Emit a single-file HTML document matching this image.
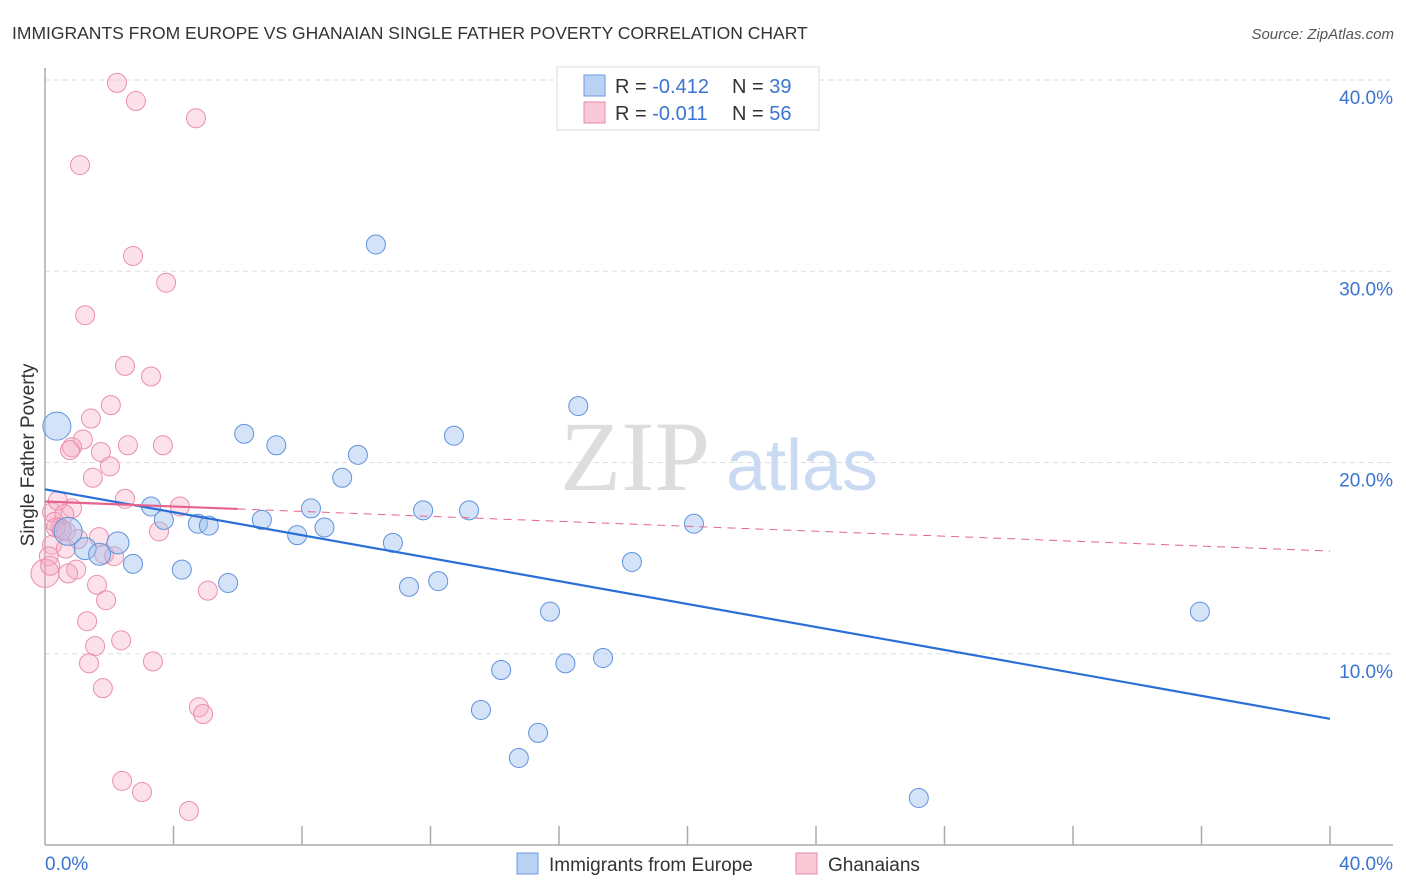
<!DOCTYPE html>
<html><head><meta charset="utf-8"><style>
body{margin:0;background:#fff;font-family:"Liberation Sans",sans-serif}
svg{display:block}
</style></head><body>
<svg id="chart" width="1406" height="892">
<text x="12" y="39" font-size="17.5" fill="#333">IMMIGRANTS FROM EUROPE VS GHANAIAN SINGLE FATHER POVERTY CORRELATION CHART</text>
<text x="1394" y="39" font-size="15" font-style="italic" fill="#555" text-anchor="end">Source: ZipAtlas.com</text>
<g id="grid"></g>
<text x="635" y="490" font-size="100" font-family="Liberation Serif,serif" fill="#ddd" text-anchor="middle">ZIP</text>
<text x="802" y="490" font-size="72" fill="#c9daf2" text-anchor="middle">atlas</text>
<g id="axes"></g>
<g id="pts"></g>
<g id="lines"></g>
<text transform="translate(34,455) rotate(-90)" font-size="19" fill="#333" text-anchor="middle">Single Father Poverty</text>
<g>
<rect x="557" y="67" width="262" height="63" fill="#fff" stroke="#ddd"/>
<rect x="584" y="75" width="21" height="21" fill="#b9d2f4" stroke="#6a9be0"/>
<rect x="584" y="102" width="21" height="21" fill="#f9c9d8" stroke="#e88aa8"/>
<text x="615" y="93" font-size="20" fill="#333">R = <tspan fill="#3a74d0">-0.412</tspan><tspan x="732">N = </tspan><tspan fill="#3a74d0">39</tspan></text>
<text x="615" y="120" font-size="20" fill="#333">R = <tspan fill="#3a74d0">-0.011</tspan><tspan x="732">N = </tspan><tspan fill="#3a74d0">56</tspan></text>
</g>
<g>
<rect x="517" y="853" width="21" height="21" fill="#b9d2f4" stroke="#6a9be0"/>
<text x="549" y="871" font-size="19" fill="#333">Immigrants from Europe</text>
<rect x="796" y="853" width="21" height="21" fill="#f9c9d8" stroke="#e88aa8"/>
<text x="828" y="871" font-size="19" fill="#333">Ghanaians</text>
</g>
</svg>
<script>
const yTicks=[10,20,30,40];
const yTickLabels=["10.0%","20.0%","30.0%","40.0%"];
const xTickLabels=["0.0%","40.0%"];
const blueX=[0.37,0.72,1.25,1.7,2.27,2.74,3.3,3.7,4.26,4.76,5.1,5.7,6.2,6.75,7.2,7.85,8.28,8.7,9.25,9.74,10.3,10.83,11.33,11.77,12.24,12.73,13.2,13.57,14.2,15.35,14.75,15.72,16.2,16.6,17.37,18.27,20.2,27.2,35.95];
const blueY=[21.9,16.4,15.5,15.2,15.8,14.7,17.7,17.0,14.4,16.8,16.7,13.7,21.5,17.0,20.9,16.2,17.6,16.6,19.2,20.4,31.4,15.8,13.5,17.5,13.8,21.4,17.5,7.06,9.15,5.86,4.55,12.2,9.5,22.95,9.78,14.8,16.8,2.46,12.2];
const blueR=[14,14,11,11,11,9.5,9.5,9.5,9.5,9.5,9.5,9.5,9.5,9.5,9.5,9.5,9.5,9.5,9.5,9.5,9.5,9.5,9.5,9.5,9.5,9.5,9.5,9.5,9.5,9.5,9.5,9.5,9.5,9.5,9.5,9.5,9.5,9.5,9.5];
const pinkX=[2.24,2.83,4.7,1.09,2.74,3.77,1.25,2.49,3.3,2.05,1.43,1.18,0.84,2.58,3.67,1.74,0.78,2.02,1.49,2.49,4.2,0.84,0.22,0.3,0.47,0.53,0.65,1.68,3.55,0.22,0.65,0.12,1.84,2.15,0.97,0.72,0,1.62,5.07,1.9,1.31,2.37,1.56,3.36,1.37,1.8,4.79,4.92,2.4,3.02,4.48,0.4,0.6,1.03,0.16,0.34];
const pinkY=[39.85,38.9,38.0,35.55,30.8,29.4,27.7,25.05,24.5,23.0,22.3,21.2,20.8,20.9,20.9,20.55,20.65,19.8,19.2,18.1,17.7,17.6,17.4,16.9,16.6,16.5,16.4,16.1,16.4,15.7,15.5,15.1,15.2,15.1,14.4,14.2,14.2,13.6,13.3,12.8,11.7,10.7,10.4,9.6,9.5,8.2,7.2,6.85,3.35,2.77,1.78,18.0,17.3,16.0,14.6,16.6];
const blueTrend=[18.6,6.6];
const pinkTrend=[17.96,15.37];
const pinkSolidEnd=6;

const NS="http://www.w3.org/2000/svg";
const X0=45,X1=1330,Y0=845,Y40=80;
const sx=v=>X0+(X1-X0)*v/40;
const sy=v=>Y0-(Y0-Y40)*v/40;
function mk(tag,attrs,parent){const e=document.createElementNS(NS,tag);for(const k in attrs)e.setAttribute(k,attrs[k]);parent.appendChild(e);return e;}
const grid=document.getElementById('grid'),axes=document.getElementById('axes'),pts=document.getElementById('pts'),lines=document.getElementById('lines');
yTicks.forEach((t,i)=>{
  const l=mk('line',{x1:X0,x2:1393,y1:sy(t),y2:sy(t),stroke:'#ddd','stroke-dasharray':'5,4'},grid);
  
  
  const tx=mk('text',{x:1393,y:sy(t)+24,'font-size':19,fill:'#3a74d0','text-anchor':'end'},grid);
  tx.textContent=yTickLabels[i];
  
  
});
let a=mk('line',{x1:X0,x2:X0,y1:68,y2:Y0,stroke:'#aaa','stroke-width':1.5},axes);


a=mk('line',{x1:X0,x2:1393,y1:Y0,y2:Y0,stroke:'#aaa','stroke-width':1.5},axes);


for(let i=1;i<=10;i++){const t=mk('line',{x1:sx(i*4),x2:sx(i*4),y1:826,y2:Y0,stroke:'#aaa','stroke-width':1.5},axes);
  
  }
let xl=mk('text',{x:45,y:870,'font-size':19,fill:'#3a74d0'},axes);xl.textContent=xTickLabels[0];


xl=mk('text',{x:1393,y:870,'font-size':19,fill:'#3a74d0','text-anchor':'end'},axes);xl.textContent=xTickLabels[1];


pinkX.forEach((v,i)=>{const c=mk('circle',{cx:sx(v),cy:sy(pinkY[i]),r:i==36?14:9.5,fill:'rgba(245,170,196,0.35)',stroke:'#ea8fae','stroke-width':1},pts);
  
  });
blueX.forEach((v,i)=>{const c=mk('circle',{cx:sx(v),cy:sy(blueY[i]),r:blueR[i],fill:'rgba(160,193,240,0.45)',stroke:'#5f93dc','stroke-width':1},pts);
  
  });
let ln=mk('line',{x1:sx(0),y1:sy(blueTrend[0]),x2:sx(40),y2:sy(blueTrend[1]),stroke:'#2a6fd6','stroke-width':2.2},lines);


const py=x=>pinkTrend[0]+(pinkTrend[1]-pinkTrend[0])*x/40;
ln=mk('line',{x1:sx(0),y1:sy(py(0)),x2:sx(pinkSolidEnd),y2:sy(py(pinkSolidEnd)),stroke:'#e8628e','stroke-width':2.2},lines);


ln=mk('line',{x1:sx(pinkSolidEnd),y1:sy(py(pinkSolidEnd)),x2:sx(40),y2:sy(py(40)),stroke:'#e8628e','stroke-width':1,'stroke-dasharray':'8,6'},lines);


</script>
</body></html>
